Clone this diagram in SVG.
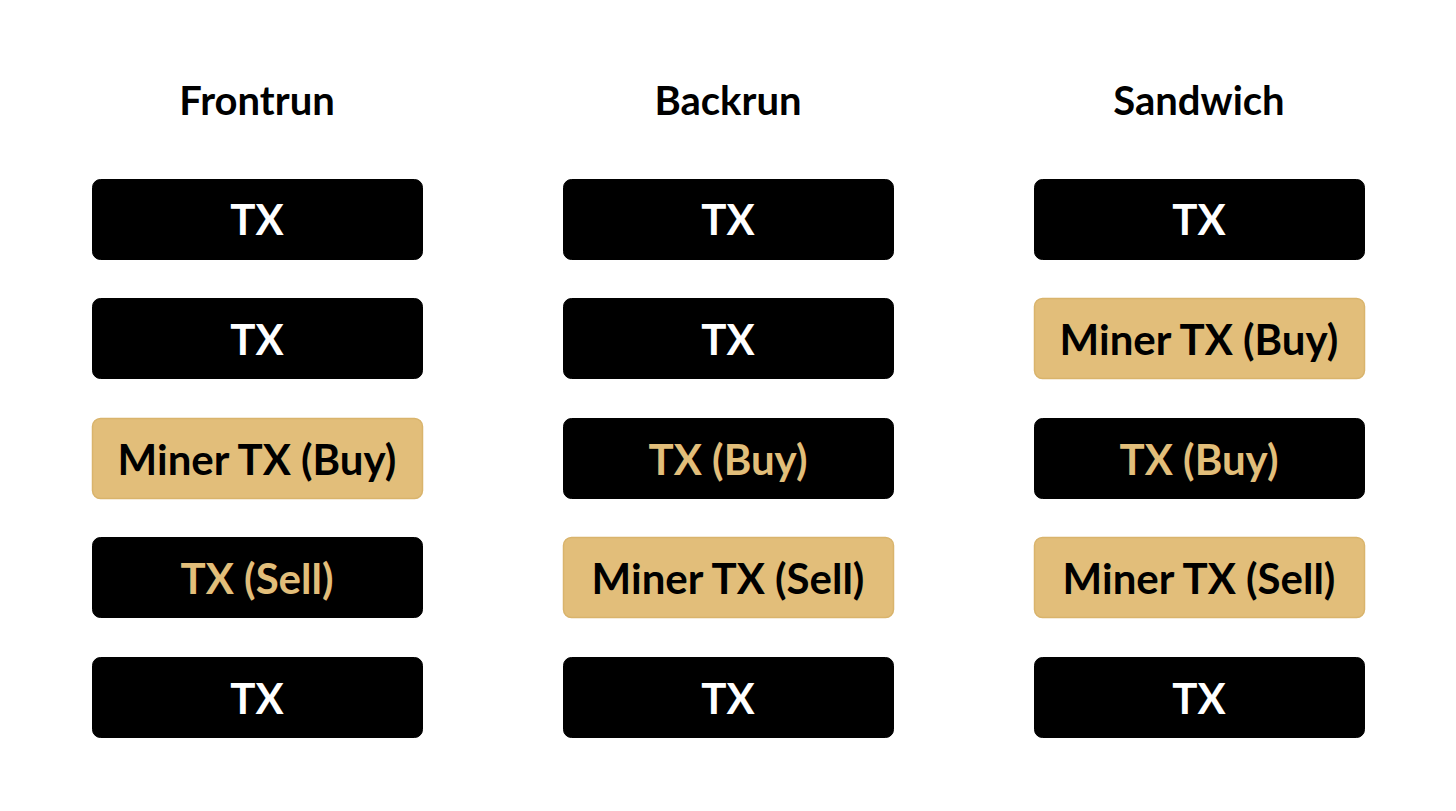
<svg xmlns="http://www.w3.org/2000/svg" width="1456" height="811" viewBox="0 0 1456 811">
<style>
.b{fill:#000;stroke:#000;stroke-width:1}
.g{fill:#E2BE7A;stroke:#D9B46C;stroke-width:1.5}
text{font-family:Lato,"Noto Sans",sans-serif;font-weight:bold;text-anchor:middle}
.t{font-size:42px}
.h{font-size:40px;fill:#000}
.w{fill:#fff}.y{fill:#E2BE7A}.k{fill:#000}
</style>
<rect width="1456" height="811" fill="#fff"/>
<g id="titles">
<text class="h" x="257" y="115">Frontrun</text>
<text class="h" x="728" y="115">Backrun</text>
<text class="h" x="1199" y="115">Sandwich</text>
</g>
<g id="frontrun">
<g id="f1"><rect class="b" x="92.5" y="179.5" width="330" height="80" rx="8"/><text class="t w" x="257" y="235">TX</text></g>
<g id="f2"><rect class="b" x="92.5" y="298.5" width="330" height="80" rx="8"/><text class="t w" x="257" y="355">TX</text></g>
<g id="f3"><rect class="g" x="92.5" y="418.5" width="330" height="80" rx="8"/><text class="t k" x="257" y="475">Miner TX (Buy)</text></g>
<g id="f4"><rect class="b" x="92.5" y="537.5" width="330" height="80" rx="8"/><text class="t y" x="257" y="594">TX (Sell)</text></g>
<g id="f5"><rect class="b" x="92.5" y="657.5" width="330" height="80" rx="8"/><text class="t w" x="257" y="714">TX</text></g>
</g>
<g id="backrun">
<g id="b1"><rect class="b" x="563.5" y="179.5" width="330" height="80" rx="8"/><text class="t w" x="728" y="235">TX</text></g>
<g id="b2"><rect class="b" x="563.5" y="298.5" width="330" height="80" rx="8"/><text class="t w" x="728" y="355">TX</text></g>
<g id="b3"><rect class="b" x="563.5" y="418.5" width="330" height="80" rx="8"/><text class="t y" x="728" y="475">TX (Buy)</text></g>
<g id="b4"><rect class="g" x="563.5" y="537.5" width="330" height="80" rx="8"/><text class="t k" x="728" y="594">Miner TX (Sell)</text></g>
<g id="b5"><rect class="b" x="563.5" y="657.5" width="330" height="80" rx="8"/><text class="t w" x="728" y="714">TX</text></g>
</g>
<g id="sandwich">
<g id="s1"><rect class="b" x="1034.5" y="179.5" width="330" height="80" rx="8"/><text class="t w" x="1199" y="235">TX</text></g>
<g id="s2"><rect class="g" x="1034.5" y="298.5" width="330" height="80" rx="8"/><text class="t k" x="1199" y="355">Miner TX (Buy)</text></g>
<g id="s3"><rect class="b" x="1034.5" y="418.5" width="330" height="80" rx="8"/><text class="t y" x="1199" y="475">TX (Buy)</text></g>
<g id="s4"><rect class="g" x="1034.5" y="537.5" width="330" height="80" rx="8"/><text class="t k" x="1199" y="594">Miner TX (Sell)</text></g>
<g id="s5"><rect class="b" x="1034.5" y="657.5" width="330" height="80" rx="8"/><text class="t w" x="1199" y="714">TX</text></g>
</g>
<g id="connectors"/>
</svg>
